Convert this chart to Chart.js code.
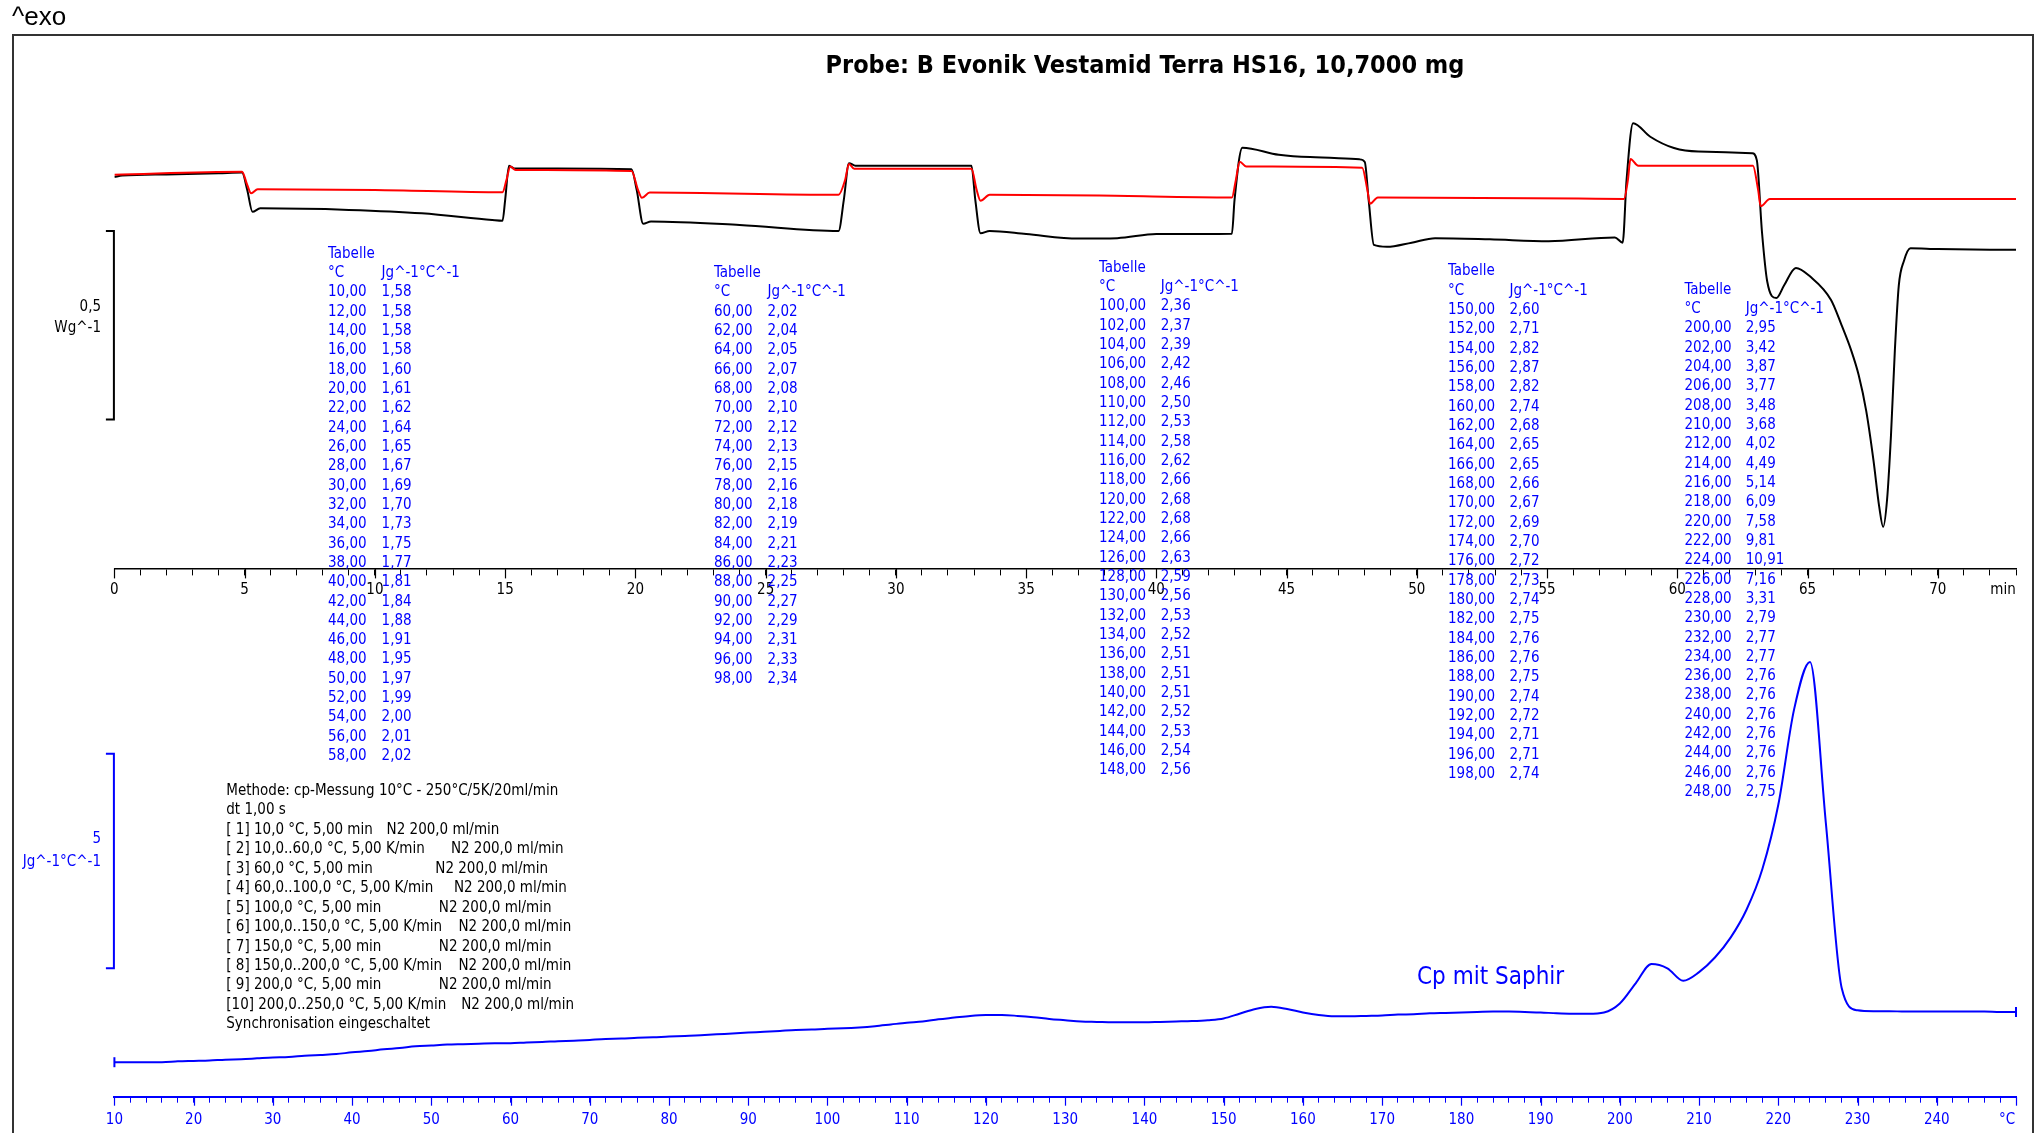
<!DOCTYPE html>
<html>
<head>
<meta charset="utf-8">
<script src="https://cdn.jsdelivr.net/npm/chart.js@4.4.1/dist/chart.umd.min.js"></script>
<style>
  html, body { margin: 0; padding: 0; background: #fff; }
  body { width: 2038px; height: 1133px; position: relative; overflow: hidden;
         font-family: "DejaVu Sans Condensed", "DejaVu Sans", sans-serif; font-stretch: condensed; }
  canvas { position: absolute; left: 0; }
  #frame { position: absolute; left: 12px; top: 34px; width: 2022px; height: 1200px;
           border: 2px solid #333; box-sizing: border-box; }
  .t { position: absolute; white-space: pre; font-size: 15px; line-height: 19.33px; }
  .blue { color: #0000ff; }
</style>
</head>
<body>
<div id="frame"></div>
<canvas id="hf" width="2038" height="640" style="top:0"></canvas>
<canvas id="cp" width="2038" height="503" style="top:630px"></canvas>

<div class="t" style="left:12px;top:3px;font:26px 'Liberation Sans',Arial,sans-serif;line-height:26px">^exo</div>
<div class="t" style="left:645px;width:1000px;text-align:center;top:50px;font-weight:bold;font-size:25px;line-height:30px">Probe: B Evonik Vestamid Terra HS16, 10,7000 mg</div>

<div class="t" style="left:0;width:101px;text-align:right;top:297px">0,5</div>
<div class="t" style="left:0;width:101px;text-align:right;top:318px">Wg^-1</div>
<div class="t blue" style="left:0;width:101px;text-align:right;top:829px">5</div>
<div class="t blue" style="left:0;width:101px;text-align:right;top:852px">Jg^-1°C^-1</div>

<div class="t" style="left:1983px;width:40px;text-align:center;top:580px">min</div>
<div class="t blue" style="left:1987px;width:40px;text-align:center;top:1110px">°C</div>
<div class="t blue" style="left:1417px;top:961px;font-size:24px;line-height:30px">Cp mit Saphir</div>

<div id="tables"></div>
<div id="method"></div>

<script>
// heat flow curves, time in min, W/g (arbitrary offset)
var blackTime = [0, 0.3, 2, 4, 4.9, 5.1, 5.3, 5.6, 9, 11.8, 14.5, 14.9, 15.0, 15.15, 15.35, 17, 19.85,
  20.05, 20.3, 20.6, 24, 27.8, 28.0, 28.2, 28.45, 32.9, 33.05, 33.25, 33.6, 35, 37, 38.5, 40, 42.9,
  43.0, 43.3, 44.7, 45.9, 47.8, 48.0, 48.15, 48.35, 48.85, 49.8, 50.7, 52.8, 55.06, 57.6, 57.9,
  58.05, 58.3, 58.96, 59.87, 60.8, 62.87, 63.05, 63.25, 63.45, 63.8, 64.1, 64.55, 65.1, 65.9, 66.3,
  66.67, 66.96, 67.25, 67.53, 67.75, 67.9, 68.05, 68.2, 68.35, 68.5, 68.7, 68.95, 70, 73];
var blackHF = [-0.003, 0.001, 0.004, 0.007, 0.009, -0.037, -0.095, -0.086, -0.090, -0.099, -0.117, -0.119, -0.064, 0.027, 0.020, 0.020, 0.018,
  -0.037, -0.127, -0.121, -0.130, -0.146, -0.064, 0.034, 0.027, 0.027, -0.064, -0.152, -0.146, -0.154, -0.166, -0.165, -0.154, -0.153,
  -0.064, 0.075, 0.056, 0.050, 0.044, 0.037, -0.064, -0.183, -0.188, -0.177, -0.165, -0.168, -0.173, -0.163, -0.177,
  -0.011, 0.140, 0.104, 0.074, 0.065, 0.060, 0.042, -0.150, -0.280, -0.324, -0.290, -0.244, -0.267, -0.329, -0.395,
  -0.462, -0.528, -0.623, -0.755, -0.878, -0.931, -0.859, -0.689, -0.462, -0.291, -0.225, -0.192, -0.194, -0.196];

var redTime = [0, 4.9, 5.1, 5.25, 5.5, 10, 14.9, 15.05, 15.2, 15.4, 19.85, 20.1, 20.25, 20.55, 27.8,
  28.05, 28.2, 28.4, 32.9, 33.1, 33.25, 33.6, 37.8, 42.9, 43.05, 43.2, 43.45, 47.9, 48.1, 48.2, 48.5,
  56.2, 57.95, 58.1, 58.2, 58.5, 62.9, 63.1, 63.2, 63.55, 73];
var redHF = [0.003, 0.011, -0.024, -0.046, -0.035, -0.037, -0.043, -0.011, 0.025, 0.016, 0.013, -0.037, -0.058, -0.044, -0.050,
  -0.011, 0.032, 0.019, 0.019, -0.037, -0.066, -0.050, -0.052, -0.057, -0.011, 0.038, 0.025, 0.022, -0.037, -0.074, -0.057,
  -0.060, -0.061, -0.011, 0.045, 0.027, 0.027, -0.037, -0.080, -0.061, -0.061];

// Cp table, °C and J/(g °C)
var cpTemp = [10, 12, 14, 16, 18, 20, 22, 24, 26, 28, 30, 32, 34, 36, 38, 40, 42, 44, 46, 48, 50, 52, 54, 56, 58,
  60, 62, 64, 66, 68, 70, 72, 74, 76, 78, 80, 82, 84, 86, 88, 90, 92, 94, 96, 98,
  100, 102, 104, 106, 108, 110, 112, 114, 116, 118, 120, 122, 124, 126, 128, 130, 132, 134, 136, 138, 140, 142, 144, 146, 148,
  150, 152, 154, 156, 158, 160, 162, 164, 166, 168, 170, 172, 174, 176, 178, 180, 182, 184, 186, 188, 190, 192, 194, 196, 198,
  200, 202, 204, 206, 208, 210, 212, 214, 216, 218, 220, 222, 224, 226, 228, 230, 232, 234, 236, 238, 240, 242, 244, 246, 248];
var cpValue = [1.58, 1.58, 1.58, 1.58, 1.60, 1.61, 1.62, 1.64, 1.65, 1.67, 1.69, 1.70, 1.73, 1.75, 1.77, 1.81, 1.84, 1.88, 1.91, 1.95, 1.97, 1.99, 2.00, 2.01, 2.02,
  2.02, 2.04, 2.05, 2.07, 2.08, 2.10, 2.12, 2.13, 2.15, 2.16, 2.18, 2.19, 2.21, 2.23, 2.25, 2.27, 2.29, 2.31, 2.33, 2.34,
  2.36, 2.37, 2.39, 2.42, 2.46, 2.50, 2.53, 2.58, 2.62, 2.66, 2.68, 2.68, 2.66, 2.63, 2.59, 2.56, 2.53, 2.52, 2.51, 2.51, 2.51, 2.52, 2.53, 2.54, 2.56,
  2.60, 2.71, 2.82, 2.87, 2.82, 2.74, 2.68, 2.65, 2.65, 2.66, 2.67, 2.69, 2.70, 2.72, 2.73, 2.74, 2.75, 2.76, 2.76, 2.75, 2.74, 2.72, 2.71, 2.71, 2.74,
  2.95, 3.42, 3.87, 3.77, 3.48, 3.68, 4.02, 4.49, 5.14, 6.09, 7.58, 9.81, 10.91, 7.16, 3.31, 2.79, 2.77, 2.77, 2.76, 2.76, 2.76, 2.76, 2.76, 2.76, 2.75];
var cpEnd = { x: 250, y: 2.75 };

// the five printed table columns (first and last temperature of each)
var tableRanges = [[10, 58], [60, 98], [100, 148], [150, 198], [200, 248]];

function fmt(v) { return v.toFixed(2).replace('.', ','); }

// tables as html text
var tablePos = [
  { left: 328, top: 243.6, gap: 53.6 },
  { left: 714, top: 263, gap: 53.6 },
  { left: 1099, top: 257.8, gap: 61.7 },
  { left: 1448, top: 261.3, gap: 61.5 },
  { left: 1684.5, top: 279.6, gap: 61.2 }
];
var html = '';
tableRanges.forEach(function(r, c) {
  var p = tablePos[c];
  var rows = ['<div>Tabelle</div>', '<div>°C<span style="position:absolute;left:' + p.gap + 'px">Jg^-1°C^-1</span></div>'];
  cpTemp.forEach(function(t, i) {
    if (t < r[0] || t > r[1]) return;
    rows.push('<div>' + fmt(t) + '<span style="position:absolute;left:' + p.gap + 'px">' + fmt(cpValue[i]) + '</span></div>');
  });
  html += '<div class="t blue" style="left:' + p.left + 'px;top:' + p.top + 'px">' + rows.join('') + '</div>';
});
document.getElementById('tables').innerHTML = html;

var methodLines = [
  ['Methode: cp-Messung 10°C - 250°C/5K/20ml/min'],
  ['dt 1,00 s'],
  ['[ 1] 10,0 °C, 5,00 min', 160.3],
  ['[ 2] 10,0..60,0 °C, 5,00 K/min', 224.6],
  ['[ 3] 60,0 °C, 5,00 min', 209],
  ['[ 4] 60,0..100,0 °C, 5,00 K/min', 227.7],
  ['[ 5] 100,0 °C, 5,00 min', 212.5],
  ['[ 6] 100,0..150,0 °C, 5,00 K/min', 232.2],
  ['[ 7] 150,0 °C, 5,00 min', 212.5],
  ['[ 8] 150,0..200,0 °C, 5,00 K/min', 232.2],
  ['[ 9] 200,0 °C, 5,00 min', 212.5],
  ['[10] 200,0..250,0 °C, 5,00 K/min', 234.9],
  ['Synchronisation eingeschaltet']
];
var mh = '';
methodLines.forEach(function(l) {
  mh += '<div style="position:relative">' + l[0] +
    (l[1] ? '<span style="position:absolute;left:' + l[1] + 'px">N2 200,0 ml/min</span>' : '') + '</div>';
});
document.getElementById('method').innerHTML =
  '<div class="t" style="left:226.3px;top:781px;line-height:19.43px">' + mh + '</div>';

// plugins
var majorTicks = {
  id: 'majorTicks',
  afterDraw: function(chart, args, o) {
    var s = chart.scales.x, ctx = chart.ctx;
    ctx.save();
    ctx.strokeStyle = o.color;
    ctx.lineWidth = 1.2;
    s.ticks.forEach(function(t) {
      if (t.value % o.every !== 0) return;
      var px = Math.round(s.getPixelForValue(t.value)) + 0.5;
      ctx.beginPath();
      ctx.moveTo(px, s.top);
      ctx.lineTo(px, s.top + o.len);
      ctx.stroke();
    });
    ctx.restore();
  }
};
var scaleBar = {
  id: 'scaleBar',
  afterDraw: function(chart, args, o) {
    var y = chart.scales.y, ctx = chart.ctx;
    var x = chart.chartArea.left - 0.5;
    var y1 = y.getPixelForValue(o.top), y2 = y.getPixelForValue(o.top - o.len);
    ctx.save();
    ctx.strokeStyle = o.color;
    ctx.lineWidth = 2;
    ctx.beginPath();
    ctx.moveTo(x - 8, y1); ctx.lineTo(x, y1); ctx.lineTo(x, y2); ctx.lineTo(x - 8, y2);
    ctx.stroke();
    ctx.restore();
  }
};

Chart.defaults.font.family = '"DejaVu Sans Condensed", "DejaVu Sans", sans-serif';
Chart.defaults.font.size = 15;

function pts(xs, ys) { return xs.map(function(x, i) { return { x: x, y: ys[i] }; }); }

new Chart(document.getElementById('hf').getContext('2d'), {
  type: 'line',
  data: {
    datasets: [{
      label: 'Saphir',
      data: pts(redTime, redHF),
      borderColor: '#ff0000',
      borderWidth: 2,
      pointRadius: 0,
      cubicInterpolationMode: 'monotone'
    }, {
      label: 'Probe',
      data: pts(blackTime, blackHF),
      borderColor: '#000000',
      borderWidth: 2,
      pointRadius: 0,
      cubicInterpolationMode: 'monotone'
    }]
  },
  options: {
    responsive: false,
    animation: false,
    devicePixelRatio: 1,
    layout: { padding: { left: 114.4, right: 22, top: 90, bottom: 0 } },
    plugins: {
      legend: { display: false },
      tooltip: { enabled: false },
      majorTicks: { every: 5, len: 10, color: '#000' },
      scaleBar: { top: -0.146, len: 0.5, color: '#000' }
    },
    scales: {
      x: {
        type: 'linear', min: 0, max: 73,
        grid: { drawOnChartArea: false, tickLength: 7, color: '#000', lineWidth: 1 },
        border: { color: '#000', width: 1.5 },
        ticks: {
          stepSize: 1, autoSkip: false, maxRotation: 0, padding: 6, color: '#000',
          callback: function(v) { return (v % 5 === 0 && v <= 70) ? String(v) : ''; }
        },
        afterFit: function(s) { s.height = 71.6; }
      },
      y: { display: false, min: -1.041, max: 0.228 }
    }
  },
  plugins: [majorTicks, scaleBar]
});

var cpLine = pts(cpTemp, cpValue).concat([cpEnd]);
new Chart(document.getElementById('cp').getContext('2d'), {
  type: 'line',
  data: {
    datasets: [{
      label: 'Cp mit Saphir',
      data: cpLine,
      borderColor: '#0000ff',
      borderWidth: 2,
      cubicInterpolationMode: 'monotone',
      pointStyle: 'line',
      rotation: 90,
      pointBorderColor: '#0000ff',
      pointBorderWidth: 2,
      pointRadius: function(c) { return (c.dataIndex === 0 || c.dataIndex === cpLine.length - 1) ? 5 : 0; }
    }]
  },
  options: {
    responsive: false,
    animation: false,
    devicePixelRatio: 1,
    clip: false,
    layout: { padding: { left: 114.4, right: 22, top: 10, bottom: 0 } },
    plugins: {
      legend: { display: false },
      tooltip: { enabled: false },
      majorTicks: { every: 10, len: 9, color: '#0000ff' },
      scaleBar: { top: 8.77, len: 5, color: '#0000ff' }
    },
    scales: {
      x: {
        type: 'linear', min: 10, max: 250,
        grid: { drawOnChartArea: false, tickLength: 6, color: '#0000ff', lineWidth: 1 },
        border: { color: '#0000ff', width: 2 },
        ticks: {
          stepSize: 2, autoSkip: false, maxRotation: 0, padding: 8, color: '#0000ff',
          callback: function(v) { return (v % 10 === 0 && v <= 240) ? String(v) : ''; }
        },
        afterFit: function(s) { s.height = 36.3; }
      },
      y: { display: false, min: 0.776, max: 11.422 }
    }
  },
  plugins: [majorTicks, scaleBar]
});
</script>
</body>
</html>
